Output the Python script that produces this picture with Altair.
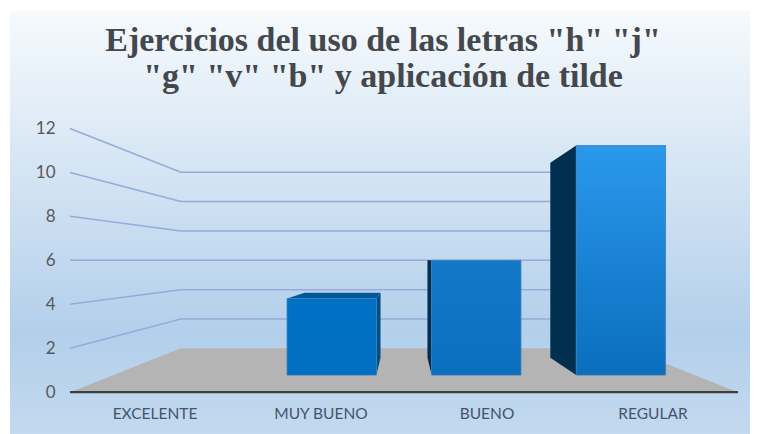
import altair as alt
import pandas as pd

# ---- chart content
TITLE = ['Ejercicios del uso de las letras "h" "j"', '"g" "v" "b" y aplicación de tilde']
categories = ["EXCELENTE", "MUY BUENO", "BUENO", "REGULAR"]
values = [0, 4, 6, 12]
y_ticks = [0, 2, 4, 6, 8, 10, 12]

# ---- one-point perspective model (world x, value, depth scale)
S_FRONT, S_BACK = 1.0, 0.668     # near / far edge of the floor
B_FRONT, B_BACK = 0.871, 0.74    # near / far face of the bars
EYE = 6                          # value at eye level
HALF_W = 334                     # half width of the floor
STEP = 166                       # category spacing
BAR_W = 102.6
W, H = 742, 426
X_DOM = [-396, 346]
Y_DOM = [-1.906, 17.484]
xs = alt.Scale(domain=X_DOM, nice=False, zero=False)
ys = alt.Scale(domain=Y_DOM, nice=False, zero=False)

y_axis = alt.Axis(
    values=y_ticks,
    format="d",
    title=None,
    domain=False,
    ticks=False,
    grid=False,
    offset=-62,
    labelPadding=15,
    labelFont="Lato",
    labelFontSize=17,
    labelColor="#595959",
    zindex=1,
)


def px(x, s):
    return x * s


def py(v, s):
    return EYE + s * (v - EYE)


X = alt.X("x:Q", scale=xs, axis=None)
Y = alt.Y("y:Q", scale=ys, axis=y_axis)


def side(x, v, fill):
    df = pd.DataFrame(
        [
            {"x": px(x, B_BACK), "y": py(v, B_BACK), "y0": py(0, B_BACK)},
            {"x": px(x, B_FRONT), "y": py(v, B_FRONT), "y0": py(0, B_FRONT)},
        ]
    )
    return alt.Chart(df).mark_area(color=fill, interpolate="linear").encode(x=X, y=Y, y2="y0:Q")


def top(x0, x1, v, fill, s0=B_BACK, s1=B_FRONT):
    df = pd.DataFrame(
        [
            {"y": py(v, s0), "x": px(x0, s0), "x0": px(x1, s0)},
            {"y": py(v, s1), "x": px(x0, s1), "x0": px(x1, s1)},
        ]
    )
    return alt.Chart(df).mark_area(color=fill, orient="horizontal").encode(y=Y, x=X, x2="x0:Q")


def grad(c0, c1):
    return alt.Gradient(
        gradient="linear",
        stops=[alt.GradientStop(offset=0, color=c0), alt.GradientStop(offset=1, color=c1)],
        x1=0, x2=0, y1=0, y2=1,
    )


background = (
    alt.Chart(pd.DataFrame({"a": [0]}))
    .mark_rect(
        color=alt.Gradient(
            gradient="linear",
            stops=[
                alt.GradientStop(offset=0, color="#f6fafd"),
                alt.GradientStop(offset=0.76, color="#b3cfeb"),
                alt.GradientStop(offset=1, color="#c3d9ef"),
            ],
            x1=0, x2=0, y1=0, y2=1,
        )
    )
    .encode(x=alt.value(2), x2=alt.value(W), y=alt.value(3), y2=alt.value(H))
)

grid_rows = []
for v in y_ticks[1:]:
    grid_rows += [
        {"v": v, "o": 0, "x": px(-HALF_W, S_FRONT), "y": py(v, S_FRONT)},
        {"v": v, "o": 1, "x": px(-HALF_W, S_BACK), "y": py(v, S_BACK)},
        {"v": v, "o": 2, "x": px(HALF_W, S_BACK), "y": py(v, S_BACK)},
    ]
grid = (
    alt.Chart(pd.DataFrame(grid_rows))
    .mark_line(color="#93acd9", strokeWidth=1.5)
    .encode(x=X, y=Y, detail="v:N", order="o:Q")
)

floor = top(-HALF_W, HALF_W, 0, "#b4b4b4", S_BACK, S_FRONT)

front_colors = {4: ("#0070c4", "#006fc2"), 6: ("#1478c8", "#0a6fbe"), 12: ("#2b98ec", "#0a6ebd")}
bars = []
for i, (cat, v) in enumerate(zip(categories, values)):
    if v <= 0:
        continue
    cx = STEP * (i - 1.5)
    x0, x1 = cx - BAR_W / 2, cx + BAR_W / 2
    if cx < 0:
        bars.append(side(x1, v, "#004f88"))
    else:
        bars.append(side(x0, v, "#002f50"))
    if v < EYE:
        bars.append(top(x0, x1, v, "#005a98"))
    front = pd.DataFrame(
        [{"x": px(x0, B_FRONT), "x0": px(x1, B_FRONT), "y": py(v, B_FRONT), "y0": py(0, B_FRONT)}]
    )
    bars.append(
        alt.Chart(front)
        .mark_rect(color=grad(*front_colors[v]), stroke="#3f80b8", strokeWidth=0.8)
        .encode(x=X, x2="x0:Q", y=Y, y2="y0:Q")
    )

baseline = (
    alt.Chart(pd.DataFrame({"x": [-HALF_W, HALF_W], "y": [0, 0]}))
    .mark_line(color="#3d4043", strokeWidth=2.4)
    .encode(x=X, y=Y)
)

cat_df = pd.DataFrame(
    {"cat": categories, "x": [STEP * (i - 1.5) for i in range(len(categories))], "y": -1.0}
)
cat_labels = (
    alt.Chart(cat_df)
    .mark_text(font="Lato", fontSize=15.5, color="#44546a", align="center", baseline="middle")
    .encode(x=X, y=Y, text="cat:N")
)

chart = alt.layer(background, grid, floor, *bars, baseline, cat_labels).properties(
    width=W,
    height=H,
    padding=0,
    autosize=alt.AutoSizeParams(type="none"),
    background="white",
    title=alt.TitleParams(
        text=TITLE,
        font="Liberation Serif",
        fontSize=34,
        fontWeight="bold",
        color="#44484c",
        anchor="middle",
        frame="group",
        baseline="top",
        lineHeight=36,
        offset=-86,
        dx=4,
    ),
).configure_view(stroke=None)

chart.save("out.html", embed_options={"renderer": "svg", "actions": False})
